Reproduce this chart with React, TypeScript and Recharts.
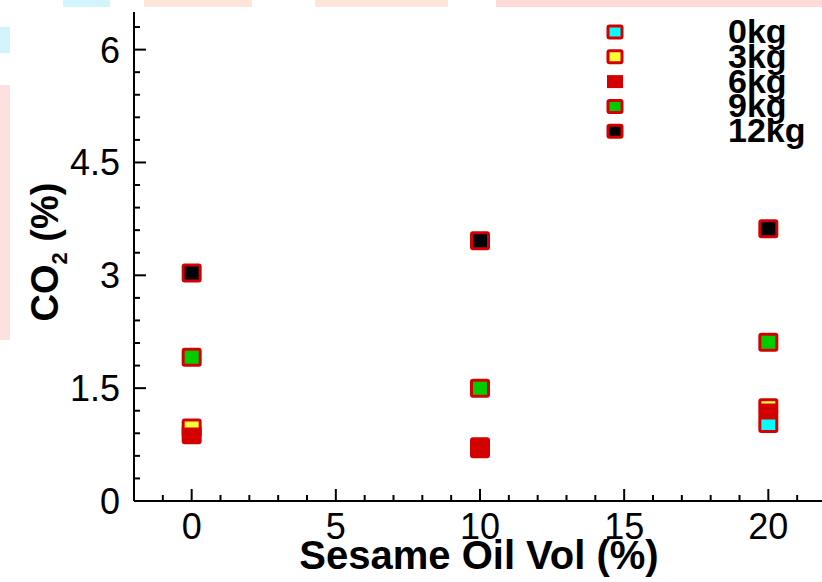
import { ScatterChart, Scatter, XAxis, YAxis } from "recharts"

const FONT = "'Liberation Sans', Arial, Helvetica, sans-serif"
const RED = "#d40000"

// oil volume (%) and CO2 (%) per load
const X_VALUES = [0, 10, 20]
const SERIES_NAMES = ["0kg", "3kg", "6kg", "9kg", "12kg"]
const CO2_0KG = [0.88, 0.695, 1.03]
const CO2_3KG = [0.97, 0.72, 1.24]
const CO2_6KG = [0.87, 0.72, 1.19]
const CO2_9KG = [1.91, 1.5, 2.11]
const CO2_12KG = [3.03, 3.46, 3.62]
const FILLS = ["#00ffff", "#ffff33", RED, "#00cc00", "#000000"]

const X_MAJOR = [0, 5, 10, 15, 20]
const X_TICKS = [-1, 0, 1, 2, 3, 4, 5, 6, 7, 8, 9, 10, 11, 12, 13, 14, 15, 16, 17, 18, 19, 20, 21]
const Y_MAJOR = [0, 1.5, 3, 4.5, 6]
const Y_TICKS = [0, 0.3, 0.6, 0.9, 1.2, 1.5, 1.8, 2.1, 2.4, 2.7, 3, 3.3, 3.6, 3.9, 4.2, 4.5, 4.8, 5.1, 5.4, 5.7, 6, 6.3]

const SERIES = [CO2_0KG, CO2_3KG, CO2_6KG, CO2_9KG, CO2_12KG].map((vals, i) => ({
  name: SERIES_NAMES[i],
  fill: FILLS[i],
  data: X_VALUES.map((x, j) => ({ x, y: vals[j] })),
}))

// filled red squares have no outline, the rest get a red border
const makeMarker = (fill: string) => (props: any) => {
  const { cx, cy } = props
  if (cx == null || cy == null) return <g />
  return (
    <rect
      x={cx - 8.5}
      y={cy - 8}
      width={17}
      height={16}
      rx={1.5}
      fill={fill}
      stroke={fill === RED ? "none" : RED}
      strokeWidth={3}
    />
  )
}

function XTick(props: any) {
  const { x, y, payload } = props
  const major = X_MAJOR.includes(payload.value)
  return (
    <g>
      <line x1={x} y1={y} x2={x} y2={y - (major ? 12 : 6)} stroke="#000" strokeWidth={2} />
      {major && (
        <text x={x} y={y + 38} textAnchor="middle" fontFamily={FONT} fontSize={36} fill="#000">
          {payload.value}
        </text>
      )}
    </g>
  )
}

function YTick(props: any) {
  const { x, y, payload } = props
  const major = Y_MAJOR.includes(payload.value)
  return (
    <g>
      <line x1={x} y1={y} x2={x + (major ? 12 : 6)} y2={y} stroke="#000" strokeWidth={2} />
      {major && (
        <text x={x - 14} y={y + 13} textAnchor="end" fontFamily={FONT} fontSize={36} fill="#000">
          {payload.value}
        </text>
      )}
    </g>
  )
}

const stripes = [
  { left: 63, top: 0, width: 47, height: 7, bg: "#d4f4fb" },
  { left: 144, top: 0, width: 108, height: 7, bg: "#fde6d8" },
  { left: 315, top: 0, width: 133, height: 7, bg: "#fde6d8" },
  { left: 496, top: 0, width: 326, height: 7, bg: "#fddcd8" },
  { left: 0, top: 27, width: 10, height: 26, bg: "#d4f4fb" },
  { left: 0, top: 85, width: 10, height: 255, bg: "#fde0e0" },
]

export default function App() {
  return (
    <div style={{ position: "relative", width: 822, height: 582, overflow: "hidden", background: "#fff" }}>
      <style>{"body{margin:0}"}</style>
      {stripes.map((s, i) => (
        <div
          key={i}
          style={{ position: "absolute", left: s.left, top: s.top, width: s.width, height: s.height, background: s.bg }}
        />
      ))}
      <div style={{ position: "absolute", left: 0, top: 0 }}>
        <ScatterChart width={840} height={582} margin={{ top: 12, right: 14, bottom: 51, left: 74 }}>
          <XAxis
            type="number"
            dataKey="x"
            domain={[-2, 22]}
            ticks={X_TICKS}
            interval={0}
            allowDataOverflow
            height={30}
            tickSize={0}
            tickMargin={0}
            tickLine={false}
            axisLine={{ stroke: "#000", strokeWidth: 2 }}
            tick={<XTick />}
            label={{
              content: () => (
                <text x={479} y={569} textAnchor="middle" fontFamily={FONT} fontWeight="bold" fontSize={40} fill="#000">
                  Sesame Oil Vol (%)
                </text>
              ),
            }}
          />
          <XAxis
            xAxisId="top"
            orientation="top"
            type="number"
            domain={[-2, 22]}
            height={0}
            tick={false}
            tickLine={false}
            axisLine={{ stroke: "#000", strokeWidth: 2 }}
          />
          <YAxis
            type="number"
            dataKey="y"
            domain={[0, 6.5]}
            ticks={Y_TICKS}
            interval={0}
            allowDataOverflow
            width={60}
            tickSize={0}
            tickMargin={0}
            tickLine={false}
            axisLine={{ stroke: "#000", strokeWidth: 2 }}
            tick={<YTick />}
            label={{
              content: () => (
                <text
                  transform="translate(58,252) rotate(-90)"
                  textAnchor="middle"
                  fontFamily={FONT}
                  fontWeight="bold"
                  fontSize={38}
                  fill="#000"
                >
                  CO
                  <tspan fontSize={22} dy={9}>2</tspan>
                  <tspan dy={-9}> (%)</tspan>
                </text>
              ),
            }}
          />
          {SERIES.map((s) => (
            <Scatter
              key={s.name}
              name={s.name}
              data={s.data}
              shape={makeMarker(s.fill)}
              isAnimationActive={false}
            />
          ))}
        </ScatterChart>
      </div>
      <svg style={{ position: "absolute", left: 590, top: 18 }} width={232} height={140}>
        {SERIES.map((s, i) => (
          <g key={s.name}>
            {s.fill === RED ? (
              <rect x={17} y={i * 24.8 + 7.5} width={16} height={13} fill={RED} />
            ) : (
              <rect x={18} y={i * 24.8 + 8} width={14} height={12} fill={s.fill} stroke={RED} strokeWidth={3} rx={1.5} />
            )}
            <text x={138} y={i * 24.8 + 25} fontFamily={FONT} fontWeight="bold" fontSize={34} fill="#000">
              {s.name}
            </text>
          </g>
        ))}
      </svg>
    </div>
  )
}
